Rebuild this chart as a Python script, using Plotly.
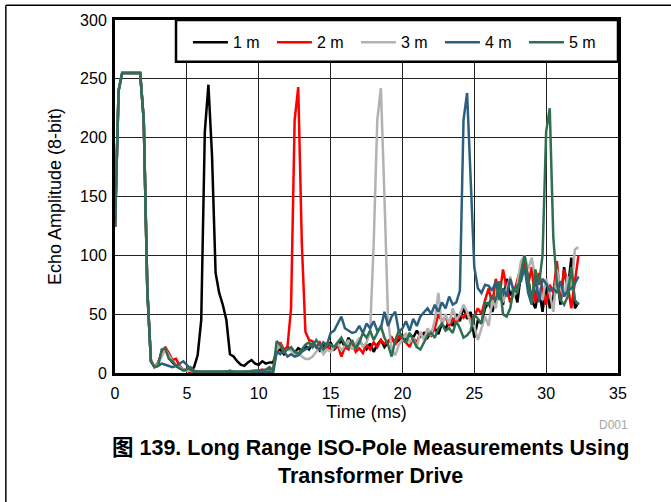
import plotly.graph_objects as go

# Sample times (ms)
time_ms = [
    0.0, 0.25, 0.5, 0.75, 1.0, 1.25, 1.5, 1.75, 2.0, 2.25,
    2.5, 2.75, 3.0, 3.25, 3.5, 3.75, 4.0, 4.25, 4.5, 4.75,
    5.0, 5.25, 5.5, 5.75, 6.0, 6.25, 6.5, 6.75, 7.0, 7.25,
    7.5, 7.75, 8.0, 8.25, 8.5, 8.75, 9.0, 9.25, 9.5, 9.75,
    10.0, 10.25, 10.5, 10.75, 11.0, 11.25, 11.5, 11.75, 12.0, 12.25,
    12.5, 12.75, 13.0, 13.25, 13.5, 13.75, 14.0, 14.25, 14.5, 14.75,
    15.0, 15.25, 15.5, 15.75, 16.0, 16.25, 16.5, 16.75, 17.0, 17.25,
    17.5, 17.75, 18.0, 18.25, 18.5, 18.75, 19.0, 19.25, 19.5, 19.75,
    20.0, 20.25, 20.5, 20.75, 21.0, 21.25, 21.5, 21.75, 22.0, 22.25,
    22.5, 22.75, 23.0, 23.25, 23.5, 23.75, 24.0, 24.25, 24.5, 24.75,
    25.0, 25.25, 25.5, 25.75, 26.0, 26.25, 26.5, 26.75, 27.0, 27.25,
    27.5, 27.75, 28.0, 28.25, 28.5, 28.75, 29.0, 29.25, 29.5, 29.75,
    30.0, 30.25, 30.5, 30.75, 31.0, 31.25, 31.5, 31.75, 32.0, 32.25,
]

# Echo amplitude (8-bit) per pole distance
echo_1m = [
    124, 240, 255, 255, 255, 255, 255, 255, 215, 70,
    10, 5, 8, 18, 21, 13, 9, 6, 4, 3,
    2, 1, 5, 15, 45, 205, 245, 185, 85, 68,
    58, 45, 16, 14, 10, 7, 6, 9, 11, 8,
    7, 10, 8, 9, 9, 18, 20, 16, 22, 20,
    17, 21, 19, 23, 20, 25, 22, 19, 24, 21,
    26, 20, 23, 28, 22, 30, 24, 21, 27, 23,
    20, 25, 18, 24, 28, 22, 26, 30, 25, 28,
    32, 27, 33, 30, 36, 31, 34, 30, 35, 38,
    33, 42, 37, 45, 40, 50, 44, 56, 46, 52,
    30, 45, 42, 55, 60, 52, 62, 70, 58, 80,
    66, 72, 60, 85, 98, 80, 62, 55, 72, 52,
    78, 55, 65, 82, 58, 90, 70, 98, 55, 60,
]
echo_2m = [
    124, 240, 255, 255, 255, 255, 255, 255, 215, 70,
    10, 5, 9, 16, 22, 17, 11, 12, 6, 3,
    2, 1, 1, 1, 1, 1, 1, 1, 1, 1,
    1, 1, 1, 1, 0, 0, 1, 1, 2, 2,
    2, 3, 2, 3, 3, 18, 26, 20, 22, 55,
    215, 243, 110, 35, 28, 27, 22, 26, 20, 23,
    19, 21, 24, 14, 22, 20, 25, 18, 21, 17,
    24, 20, 26, 22, 28, 25, 27, 30, 24, 32,
    28, 26, 22, 30, 26, 34, 30, 36, 32, 38,
    50, 44, 48, 40, 46, 42, 50, 47, 52, 45,
    48, 55, 50, 62, 72, 58, 80, 65, 88, 72,
    60, 68, 78, 90, 95, 75, 90, 60, 85, 70,
    58, 75, 68, 95, 62, 88, 75, 55, 80, 100,
]
echo_3m = [
    124, 240, 255, 255, 255, 255, 255, 255, 215, 70,
    10, 5, 8, 14, 20, 15, 10, 7, 5, 3,
    2, 2, 1, 1, 1, 1, 1, 1, 1, 1,
    1, 1, 1, 1, 1, 1, 1, 1, 1, 1,
    1, 1, 2, 1, 2, 20, 24, 18, 20, 19,
    16, 18, 14, 12, 12, 14, 18, 22, 16, 20,
    18, 22, 26, 19, 24, 28, 20, 25, 30, 22,
    26, 35, 110, 215, 242, 150, 45, 20, 15, 24,
    28, 34, 26, 30, 22, 35, 28, 38, 32, 45,
    68, 40, 50, 42, 55, 45, 50, 58, 52, 42,
    40, 28, 38, 48, 40, 62, 55, 75, 60, 70,
    82, 65, 75, 95, 100, 88, 98, 80, 70, 62,
    80, 68, 52, 88, 72, 65, 82, 70, 105, 107,
]
echo_4m = [
    124, 240, 255, 255, 255, 255, 255, 255, 215, 70,
    10, 5, 6, 8, 7, 6, 5, 6, 8, 10,
    7, 3, 1, 1, 1, 1, 1, 1, 1, 1,
    1, 1, 1, 1, 1, 1, 1, 1, 1, 1,
    1, 1, 1, 1, 0, 18, 16, 19, 14, 16,
    14, 15, 18, 20, 22, 25, 22, 20, 26, 24,
    34, 36, 42, 48, 38, 36, 34, 35, 40, 34,
    42, 38, 44, 36, 38, 52, 40, 48, 52, 35,
    38, 44, 36, 46, 40, 48, 52, 55, 50, 58,
    52, 60, 55, 65, 58, 60, 70, 215, 238, 165,
    90, 72, 68, 75, 74, 70, 78, 62, 72, 65,
    80, 70, 74, 78, 90, 68, 58, 82, 60, 80,
    76, 70, 72, 68, 78, 65, 70, 72, 76, 82,
]
echo_5m = [
    124, 240, 255, 255, 255, 255, 255, 255, 215, 70,
    10, 5, 6, 20, 21, 12, 10, 6, 4, 2,
    3, 5, 2, 1, 1, 1, 1, 1, 1, 1,
    1, 1, 2, 1, 1, 1, 1, 1, 1, 2,
    2, 2, 3, 5, 2, 27, 24, 18, 20, 22,
    18, 16, 20, 24, 26, 22, 28, 24, 20, 25,
    24, 22, 26, 30, 24, 22, 28, 20, 26, 34,
    30, 36, 28, 34, 40, 30, 24, 14, 28, 36,
    30, 26, 34, 28, 22, 20, 26, 32, 34, 30,
    38, 42, 36, 38, 34, 44, 38, 30, 32, 36,
    50, 46, 42, 60, 58, 66, 62, 78, 50, 48,
    55, 72, 68, 85, 100, 80, 60, 88, 75, 100,
    205, 225, 115, 75, 62, 58, 65, 90, 62, 58,
]

series_names = ['1 m', '2 m', '3 m', '4 m', '5 m']
series_colors = ['#000000', '#FF0000', '#B2B2B2', '#2B5F7F', '#2F6F4F']
series_values = [echo_1m, echo_2m, echo_3m, echo_4m, echo_5m]

font_family = 'Liberation Sans, Arial, Noto Sans CJK SC, sans-serif'

fig = go.Figure()
for name, color, values in zip(series_names, series_colors, series_values):
    fig.add_trace(go.Scatter(x=time_ms, y=values, mode='lines', name=name,
                             line=dict(color=color, width=2.5)))

fig.update_layout(
    width=671, height=502,
    margin=dict(l=115, r=53, t=17, b=129),
    paper_bgcolor='white', plot_bgcolor='white',
    font=dict(family=font_family, size=16, color='black'),
    legend=dict(orientation='h', x=0.145, xanchor='left', y=0.985, yanchor='top',
                bgcolor='rgba(0,0,0,0)', borderwidth=0,
                itemwidth=35, entrywidth=34, entrywidthmode='pixels',
                font=dict(size=16)),
)

fig.update_xaxes(range=[0, 35], dtick=5, showgrid=True, gridcolor='#222222', gridwidth=1,
                 showline=True, linecolor='black', linewidth=3, mirror=True,
                 zeroline=False, ticks='', ticklabelstandoff=4,
                 title=dict(text='Time (ms)', font=dict(size=18), standoff=0))
fig.update_yaxes(range=[0, 300], dtick=50, showgrid=True, gridcolor='#222222', gridwidth=1,
                 showline=True, linecolor='black', linewidth=3, mirror=True,
                 zeroline=False, ticks='', ticklabelstandoff=2,
                 title=dict(text='Echo Amplitude (8-bit)', font=dict(size=18), standoff=14))

# legend box
fig.add_shape(type='rect', xref='paper', yref='paper', x0=0.1213, x1=1, y0=0.882, y1=1,
              layer='above', fillcolor='white', line=dict(color='black', width=2.5))

# figure frame (top and left edges)
fig.add_shape(type='line', xref='paper', yref='paper', x0=-0.217, x1=1.2, y0=1.042, y1=1.042,
              line=dict(color='black', width=1.5))
fig.add_shape(type='line', xref='paper', yref='paper', x0=-0.217, x1=-0.217, y0=1.042, y1=-0.5,
              line=dict(color='black', width=1.5))

fig.add_annotation(text='D001', xref='paper', yref='paper', x=0.992, y=-0.146,
                   xanchor='center', yanchor='middle',
                   showarrow=False, font=dict(size=12, color='#A6A6A6'))
fig.add_annotation(text='<b>图 139. Long Range ISO-Pole Measurements Using<br>Transformer Drive</b>',
                   xref='paper', yref='paper', x=0.507, y=-0.251,
                   xanchor='center', yanchor='middle', showarrow=False,
                   font=dict(size=21.5, color='black', family=font_family))

fig.write_html('out.html', config={'displayModeBar': False},
               post_script="document.body.style.margin='0';")
